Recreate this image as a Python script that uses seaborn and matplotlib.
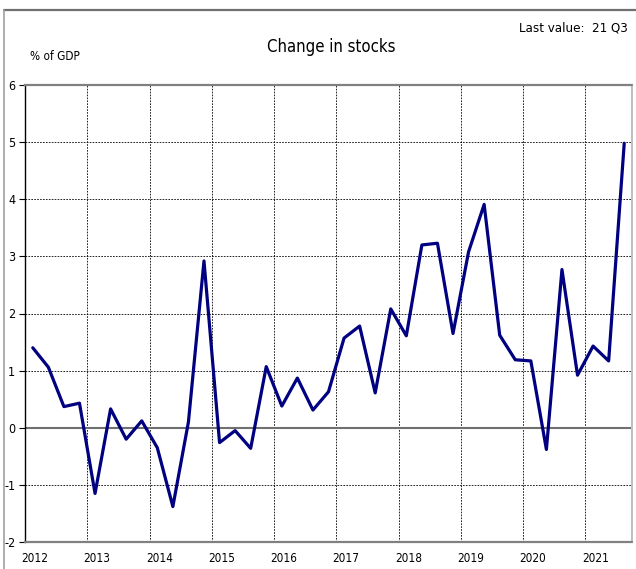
import pandas as pd
import matplotlib.pyplot as plt
from matplotlib.lines import Line2D
import seaborn as sns

# quarterly data, 2012 Q1 .. 2021 Q3
years = [2012, 2013, 2014, 2015, 2016, 2017, 2018, 2019, 2020, 2021]
values = [1.40, 1.06, 0.37, 0.43,
          -1.15, 0.33, -0.20, 0.12,
          -0.35, -1.38, 0.10, 2.92,
          -0.26, -0.05, -0.36, 1.07,
          0.38, 0.87, 0.31, 0.63,
          1.57, 1.78, 0.61, 2.08,
          1.61, 3.20, 3.23, 1.65,
          3.08, 3.91, 1.62, 1.19,
          1.17, -0.38, 2.77, 0.92,
          1.43, 1.17, 4.98]
quarters = [f"{y} Q{q}" for y in years for q in range(1, 5)][:len(values)]

df = pd.DataFrame({'quarter': quarters, 'value': values})
# position each quarter in the middle of its slot on a year scale
df['t'] = [int(s[:4]) + (int(s[-1]) - 0.5) / 4 for s in df['quarter']]

sns.set_style('white')
plt.rcParams['font.family'] = ['DejaVu Sans']
plt.rcParams['font.stretch'] = 'condensed'
plt.rcParams['axes.unicode_minus'] = False
plt.rcParams['text.color'] = 'black'
plt.rcParams['xtick.color'] = 'black'
plt.rcParams['ytick.color'] = 'black'

fig = plt.figure(figsize=(6.36, 5.69), dpi=100)
ax = fig.add_axes([25 / 636, 27 / 569, 607 / 636, 457 / 569])

sns.lineplot(data=df, x='t', y='value', ax=ax, color='#000080', linewidth=2.3)

ax.set_xlim(2012, 2021.75)
ax.set_ylim(-2, 6)
ax.set_yticks(range(-2, 7))
ax.set_xticks(years)
ax.set_xticklabels([])
ax.set_xticks([y + 0.16 for y in years], minor=True)
ax.set_xticklabels([str(y) for y in years], minor=True)
ax.tick_params(axis='x', which='both', length=0, labelsize=8.5, pad=7)
ax.tick_params(axis='y', length=4, width=0.8, color='black', labelsize=9, pad=3, left=True)
ax.grid(True, which='major', color='black', linestyle=(0, (2, 1.5)), linewidth=0.6)
ax.axhline(0, color='#707070', linewidth=1.5, zorder=1)
ax.set_xlabel('')
ax.set_ylabel('')

ax.spines['left'].set_color('black')
ax.spines['left'].set_linewidth(1.0)
for side in ['top', 'bottom']:
    ax.spines[side].set_color('#808080')
    ax.spines[side].set_linewidth(1.6)
    ax.spines[side].set_linestyle((0, (1, 1)))
ax.spines['right'].set_color('#c0c0c0')
ax.spines['right'].set_linewidth(1.5)

fig.text(331 / 636, 1 - 47 / 569, 'Change in stocks', ha='center', va='center', fontsize=12)
fig.text(30 / 636, 1 - 56 / 569, '% of GDP', ha='left', va='center', fontsize=8.5)
fig.text(628 / 636, 1 - 28 / 569, 'Last value:  21 Q3', ha='right', va='center', fontsize=9.5)

# outer frame (top and left edges)
fig.add_artist(Line2D([4 / 636, 1], [1 - 10 / 569] * 2, transform=fig.transFigure,
                      color='#707070', linewidth=1.6))
fig.add_artist(Line2D([4 / 636] * 2, [0, 1 - 10 / 569], transform=fig.transFigure,
                      color='#a0a0a0', linewidth=1.2))

fig.savefig('out.png', dpi=100)
